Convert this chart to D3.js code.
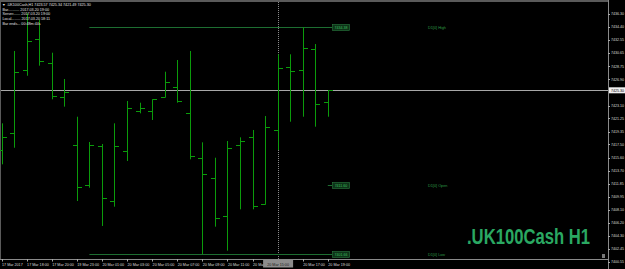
<!DOCTYPE html>
<html>
<head>
<meta charset="utf-8">
<script src="https://cdnjs.cloudflare.com/ajax/libs/d3/7.8.5/d3.min.js"></script>
<style>
  body { margin: 0; background: #000; overflow: hidden; }
  svg { display: block; font-family: "Liberation Sans", Arial, sans-serif; }
</style>
</head>
<body>
<div id="chart"></div>
<script>
// H1 bars, .UK100Cash, 17 Mar 16:00 -> 20 Mar 19:00
var barTimes = ["17 Mar 16:00", "17 Mar 17:00", "17 Mar 18:00", "17 Mar 19:00", "17 Mar 20:00", "17 Mar 21:00",
	"19 Mar 23:00", "20 Mar 00:00", "20 Mar 01:00", "20 Mar 02:00", "20 Mar 03:00", "20 Mar 04:00",
	"20 Mar 05:00", "20 Mar 06:00", "20 Mar 07:00", "20 Mar 08:00", "20 Mar 09:00", "20 Mar 10:00",
	"20 Mar 11:00", "20 Mar 12:00", "20 Mar 13:00", "20 Mar 14:00", "20 Mar 15:00", "20 Mar 16:00",
	"20 Mar 17:00", "20 Mar 18:00", "20 Mar 19:00"]
var opens  = [7416.69, 7419.14, 7428.18, 7432.65, 7429.19, 7424.29, 7417.46, 7411.60, 7417.27, 7409.34, 7416.59, 7422.32, 7422.32, 7424.29,
	7425.73, 7421.98, 7415.58, 7412.61, 7407.18, 7417.37, 7418.52, 7408.86, 7419.58, 7428.70, 7428.18, 7431.21, 7423.57]
var highs  = [7420.54, 7430.97, 7436.40, 7435.43, 7430.72, 7426.93, 7421.49, 7417.85, 7417.56, 7420.54, 7423.76, 7423.51, 7424.00, 7427.98,
	7429.67, 7430.97, 7417.80, 7415.58, 7417.99, 7418.52, 7419.58, 7421.59, 7430.49, 7430.49, 7434.38, 7431.97, 7425.34]
var lows   = [7414.63, 7417.02, 7427.40, 7428.85, 7424.00, 7422.94, 7409.34, 7411.26, 7405.74, 7408.52, 7415.11, 7421.98, 7421.02, 7424.29,
	7423.51, 7415.35, 7401.66, 7405.64, 7402.18, 7408.14, 7408.14, 7408.81, 7416.69, 7420.77, 7421.49, 7420.05, 7421.49]
var closes = [7418.57, 7427.94, 7432.36, 7429.48, 7424.52, 7425.01, 7411.32, 7417.41, 7409.73, 7417.27, 7422.70, 7422.70, 7424.00, 7426.45,
	7423.76, 7415.87, 7413.19, 7406.93, 7417.02, 7417.95, 7408.66, 7420.05, 7428.47, 7428.04, 7431.35, 7423.28, 7425.30]

var priceTicks = ["7436.30", "7434.40", "7432.55", "7430.65", "7428.75", "7426.90", "7425.00", "7423.10", "7421.25", "7419.35",
	"7417.50", "7415.60", "7413.70", "7411.85", "7409.95", "7408.10", "7406.20", "7404.30", "7402.45", "7400.55"]

var infoLines = ["Bar........... 2017.03.20 19:00", "Server....... 2017.03.20 19:00", "Local......... 2017.03.20 18:11", "Bar ends... 00:48m:44s"]

var dayStart = 7      // first bar of 20 Mar
var separatorBar = 22 // dotted vertical line

var width = 625, height = 269
var axisX = 608, axisY = 259
var barColor = "#0b9b0b"
var levelColor = "#1d6e31"

var svg = d3.select("#chart").append("svg")
	.attr("width", width)
	.attr("height", height)
	.style("background", "#000")

var x = d3.scaleLinear()
	.domain([0, opens.length - 1])
	.range([1.5, 1.5 + 12.55 * (opens.length - 1)])

var y = d3.scaleLinear()
	.domain([7436.30, 7402.45])
	.range([14, 248.8])

var px = function(v) { return Math.round(v) + 0.5 }

// frame
svg.append("rect").attr("x", 0).attr("y", 0).attr("width", axisX).attr("height", 2).style("fill", "#5a5a5a")
svg.append("rect").attr("x", 0).attr("y", 0).attr("width", 1).attr("height", axisY).style("fill", "#5a5a5a")

// dotted separator
svg.append("line")
	.attr("x1", px(x(separatorBar))).attr("x2", px(x(separatorBar)))
	.attr("y1", 2).attr("y2", axisY)
	.style("stroke", "#8a8a8a")
	.style("stroke-dasharray", "1,1")

// current price line
var lastClose = closes[closes.length - 1]
svg.append("line")
	.attr("x1", 1).attr("x2", axisX)
	.attr("y1", px(y(lastClose))).attr("y2", px(y(lastClose)))
	.style("stroke", "#a8a8a8")

// D1 levels
var dayHigh = d3.max(highs.slice(dayStart))
var dayLow = d3.min(lows.slice(dayStart))
var dayOpen = opens[dayStart]
var levels = [
	{name: "D1[0] High", value: dayHigh, from: x(dayStart)},
	{name: "D1[0] Open", value: dayOpen, from: x(opens.length - 1)},
	{name: "D1[0] Low", value: dayLow, from: x(dayStart)}
]
var boxX = 332

var lv = svg.selectAll(".level").data(levels).enter().append("g").attr("class", "level")
lv.append("line")
	.attr("x1", function(d) { return d.from }).attr("x2", boxX)
	.attr("y1", function(d) { return px(y(d.value)) }).attr("y2", function(d) { return px(y(d.value)) })
	.style("stroke", levelColor)
lv.append("rect")
	.attr("x", boxX + 0.5).attr("width", 17)
	.attr("y", function(d) { return px(y(d.value)) - 3 }).attr("height", 6)
	.style("fill", "#0d3318").style("stroke", "#2a7a40").style("stroke-width", 0.6)
lv.append("text")
	.attr("x", boxX + 9).attr("y", function(d) { return y(d.value) + 1.4 })
	.attr("text-anchor", "middle")
	.style("font-size", "3.6px").style("fill", "#3fbf5f")
	.text(function(d) { return d.value.toFixed(2) })
lv.append("text")
	.attr("x", 428).attr("y", function(d) { return y(d.value) + 1.4 })
	.style("font-size", "3.8px").style("fill", "#2e9a46")
	.text(function(d) { return d.name })

// OHLC bars
var bars = svg.selectAll(".bar").data(opens).enter().append("g").attr("class", "bar")
bars.append("line")
	.attr("x1", function(d, i) { return px(x(i)) }).attr("x2", function(d, i) { return px(x(i)) })
	.attr("y1", function(d, i) { return y(highs[i]) }).attr("y2", function(d, i) { return y(lows[i]) })
	.style("stroke", barColor)
bars.append("line")
	.attr("x1", function(d, i) { return px(x(i)) - 4.5 }).attr("x2", function(d, i) { return px(x(i)) })
	.attr("y1", function(d) { return px(y(d)) }).attr("y2", function(d) { return px(y(d)) })
	.style("stroke", barColor)
bars.append("line")
	.attr("x1", function(d, i) { return px(x(i)) }).attr("x2", function(d, i) { return px(x(i)) + 4.5 })
	.attr("y1", function(d, i) { return px(y(closes[i])) }).attr("y2", function(d, i) { return px(y(closes[i])) })
	.style("stroke", barColor)

// watermark, squeezed to the width of the original label
var wm = svg.append("text")
	.attr("x", 0).attr("y", 0)
	.style("font-family", "'Liberation Sans Narrow', 'Liberation Sans', Arial, sans-serif")
	.style("font-weight", "bold")
	.style("font-size", "22px")
	.style("fill", "#2aa862")
	.text(".UK100Cash H1")
var wmLen = wm.node().getComputedTextLength()
wm.attr("transform", "translate(467,244) scale(" + (123 / wmLen) + ",1)")

// header info
var head = svg.append("g").style("fill", "#e0e0e0").style("font-size", "3.7px")
head.append("text").attr("x", 2).attr("y", 5.5)
	.text("\u25BC .UK100Cash,H1  " + [opens[26], highs[26], lows[26], lastClose].map(function(v) { return v.toFixed(2) }).join(" "))
head.selectAll(".info").data(infoLines).enter().append("text")
	.attr("x", 2.5).attr("y", function(d, i) { return 10.5 + i * 4.7 })
	.text(function(d) { return d })

// price axis (labels hidden under the current price tag are skipped)
svg.append("line").attr("x1", axisX + 0.5).attr("x2", axisX + 0.5).attr("y1", 0).attr("y2", height).style("stroke", "#8a8a8a")
var shownTicks = priceTicks.filter(function(d) { return Math.abs(y(+d) - y(lastClose)) > 5 })
var pt = svg.selectAll(".ptick").data(shownTicks).enter().append("g").attr("class", "ptick")
pt.append("line")
	.attr("x1", axisX).attr("x2", axisX + 2)
	.attr("y1", function(d) { return px(y(+d)) }).attr("y2", function(d) { return px(y(+d)) })
	.style("stroke", "#aaa")
pt.append("text")
	.attr("x", axisX + 3).attr("y", function(d) { return y(+d) + 1.3 })
	.style("font-size", "3.6px").style("fill", "#dcdcdc")
	.text(function(d) { return d })

// current price tag
svg.append("rect").attr("x", axisX + 1).attr("y", y(lastClose) - 3).attr("width", 16).attr("height", 6).style("fill", "#f0f0f0")
svg.append("text").attr("x", axisX + 3).attr("y", y(lastClose) + 1.3)
	.style("font-size", "3.6px").style("fill", "#000")
	.text(lastClose.toFixed(2))

// time axis
svg.append("line").attr("x1", 0).attr("x2", axisX).attr("y1", axisY + 0.5).attr("y2", axisY + 0.5).style("stroke", "#8a8a8a")
var timeIdx = d3.range(0, barTimes.length, 2).filter(function(d) { return d != separatorBar })
var tt = svg.selectAll(".ttick").data(timeIdx).enter().append("g").attr("class", "ttick")
tt.append("line")
	.attr("x1", function(d) { return px(x(d)) }).attr("x2", function(d) { return px(x(d)) })
	.attr("y1", axisY).attr("y2", axisY + 2.5)
	.style("stroke", "#aaa")
tt.append("text")
	.attr("x", function(d) { return x(d) + 0.5 }).attr("y", 265.5)
	.style("font-size", "3.7px").style("fill", "#dcdcdc")
	.text(function(d, i) { return i == 0 ? barTimes[d].slice(0, 6) + " 2017" : barTimes[d] })

// separator time tag
svg.append("rect").attr("x", x(separatorBar) - 14.5).attr("y", axisY + 1).attr("width", 30).attr("height", 7.5).style("fill", "#8c8c8c")
svg.append("text").attr("x", x(separatorBar) + 0.5).attr("y", 265.5).attr("text-anchor", "middle")
	.style("font-size", "3.7px").style("fill", "#1a1a1a")
	.text(barTimes[separatorBar])

// shift marker
svg.append("rect").attr("x", 602).attr("y", 254).attr("width", 3).attr("height", 4).style("fill", "#777")
</script>
</body>
</html>
